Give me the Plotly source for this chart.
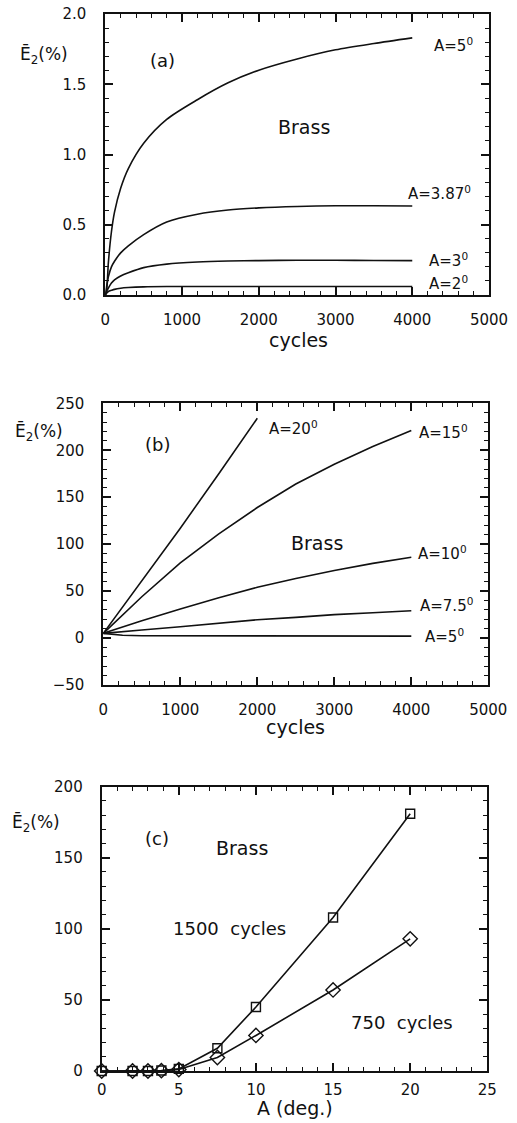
import plotly.graph_objects as go

# ---------------- data ----------------
# Panel (a): strain vs cycles, small amplitudes
cycles_a = [0, 20, 40, 80, 120, 200, 300, 500, 800, 1200, 1600, 2000, 2500, 3000, 3500, 4000]
e_a_5 = [0.0, 0.05, 0.23, 0.45, 0.59, 0.76, 0.90, 1.08, 1.25, 1.39, 1.51, 1.60, 1.68, 1.745, 1.79, 1.83]
e_a_387 = [0.0, 0.07, 0.13, 0.20, 0.24, 0.30, 0.35, 0.43, 0.52, 0.575, 0.605, 0.62, 0.63, 0.635, 0.635, 0.633]
e_a_3 = [0.0, 0.03, 0.05, 0.085, 0.108, 0.135, 0.158, 0.195, 0.22, 0.235, 0.242, 0.245, 0.247, 0.247, 0.246, 0.245]
e_a_2 = [0.0, 0.015, 0.025, 0.033, 0.04, 0.048, 0.053, 0.058, 0.06, 0.06, 0.06, 0.06, 0.06, 0.06, 0.06, 0.06]

# Panel (b): strain vs cycles, larger amplitudes
cycles_b = [0, 250, 500, 1000, 1500, 2000, 2500, 3000, 3500, 4000]
cycles_b20 = [0, 250, 500, 1000, 1500, 2000]
e_b_20 = [5, 33, 61, 117, 175, 234]
e_b_15 = [5, 25, 44, 80, 111, 139, 164, 185, 204, 221]
e_b_10 = [5, 12, 18.5, 31, 43, 54, 63.5, 72, 79.5, 86]
e_b_75 = [5, 7, 8.5, 12, 16, 19.5, 22, 25, 27, 29]
e_b_5 = [5, 3, 2.5, 2.5, 2, 2.2, 2, 2, 2, 2]

# Panel (c): strain vs amplitude
amp_deg = [0, 2, 3, 3.87, 5, 7.5, 10, 15, 20]
e_c_1500 = [0, 0, 0, 0.3, 1.5, 16, 45, 108, 181]
e_c_750 = [0, 0, 0, 0.2, 1, 9.5, 25, 57, 93]

# ---------------- figure ----------------
W, H = 517, 1123
FONT = "DejaVu Sans"
INK = "#111111"

fig = go.Figure()
line = dict(color=INK, width=1.6)

for ys in (e_a_5, e_a_387, e_a_3, e_a_2):
    fig.add_trace(go.Scatter(x=cycles_a, y=ys, mode="lines", line=dict(line, shape="spline", smoothing=0.8),
                             xaxis="x", yaxis="y", showlegend=False))

fig.add_trace(go.Scatter(x=cycles_b20, y=e_b_20, mode="lines", line=line,
                         xaxis="x2", yaxis="y2", showlegend=False))
for ys in (e_b_15, e_b_10, e_b_75, e_b_5):
    fig.add_trace(go.Scatter(x=cycles_b, y=ys, mode="lines", line=line,
                             xaxis="x2", yaxis="y2", showlegend=False))

fig.add_trace(go.Scatter(x=amp_deg, y=e_c_1500, mode="lines+markers", line=line,
                         marker=dict(symbol="square-open", size=9, color=INK, line=dict(width=1.4)),
                         cliponaxis=False, xaxis="x3", yaxis="y3", showlegend=False))
fig.add_trace(go.Scatter(x=amp_deg, y=e_c_750, mode="lines+markers", line=line,
                         marker=dict(symbol="diamond-open", size=11, color=INK, line=dict(width=1.4)),
                         cliponaxis=False, xaxis="x3", yaxis="y3", showlegend=False))


def px_x(p):
    return p / W


def px_y(p):
    return 1 - p / H


tickfont = dict(family=FONT, size=15, color=INK)


def common(rng, dtick, minor, standoff):
    return dict(range=rng, tickmode="linear", dtick=dtick, tick0=0, automargin=False,
                showline=True, linewidth=2, linecolor=INK, mirror="allticks",
                ticks="inside", ticklen=8, tickwidth=1.5, tickcolor=INK,
                minor=dict(dtick=minor, tick0=0, ticks="inside", ticklen=4, tickwidth=1.2,
                           tickcolor=INK, showgrid=False),
                showgrid=False, zeroline=False, tickfont=tickfont,
                ticklabelstandoff=standoff, fixedrange=True)


def xax(domain, anchor, rng, dtick, minor, standoff):
    d = common(rng, dtick, minor, standoff)
    d.update(domain=domain, anchor=anchor)
    return d


def yax(domain, anchor, rng, dtick, minor, fmt=None):
    d = common(rng, dtick, minor, 14)
    d.update(domain=domain, anchor=anchor)
    if fmt:
        d["tickformat"] = fmt
    return d


fig.update_layout(
    template="simple_white",
    width=W, height=H,
    margin=dict(l=0, r=0, t=0, b=0, autoexpand=False),
    paper_bgcolor="white", plot_bgcolor="white",
    font=dict(family=FONT, color=INK),
    xaxis=xax([px_x(105.3), px_x(489)], "y", [0, 5000], 1000, 200, 10),
    yaxis=yax([px_y(295), px_y(14)], "x", [0, 2], 0.5, 0.1, ".1f"),
    xaxis2=xax([px_x(103.3), px_x(488.3)], "y2", [0, 5000], 1000, 200, 10),
    yaxis2=yax([px_y(685), px_y(403.3)], "x2", [-50, 250], 50, 10),
    xaxis3=xax([px_x(101.7), px_x(487.3)], "y3", [0, 25], 5, 1, 4),
    yaxis3=yax([px_y(1071), px_y(786.7)], "x3", [0, 200], 50, 10),
)

ann = []


def txt(text, x, y, xref, yref, size, xanchor="center", yanchor="middle"):
    ann.append(dict(text=text, x=x, y=y, xref=xref, yref=yref, showarrow=False,
                    xanchor=xanchor, yanchor=yanchor,
                    font=dict(family=FONT, size=size, color=INK)))


deg = "<sup>0</sup>"
# panel (a)
txt("(a)", 749, 1.67, "x", "y", 18)
txt("Brass", 2594, 1.196, "x", "y", 19)
txt("A=5" + deg, 4256, 1.78, "x", "y", 15, "left")
txt("A=3.87" + deg, 3918, 0.726, "x", "y", 15, "left")
txt("A=3" + deg, 4191, 0.249, "x", "y", 15, "left")
txt("A=2" + deg, 4191, 0.085, "x", "y", 15, "left")
# panel (b)
txt("(b)", 710, 205.6, "x2", "y2", 18)
txt("Brass", 2775, 101, "x2", "y2", 19)
txt("A=20" + deg, 2126, 224, "x2", "y2", 15, "left")
txt("A=15" + deg, 4070, 219.8, "x2", "y2", 15, "left")
txt("A=10" + deg, 4057, 90.4, "x2", "y2", 15, "left")
txt("A=7.5" + deg, 4091, 35.4, "x2", "y2", 15, "left")
txt("A=5" + deg, 4148, 1.7, "x2", "y2", 15, "left")
# panel (c)
txt("(c)", 3.58, 163.9, "x3", "y3", 18)
txt("Brass", 9.09, 156.9, "x3", "y3", 19)
txt("1500\u00a0\u00a0cycles", 8.31, 100.6, "x3", "y3", 18)
txt("750\u00a0\u00a0cycles", 19.46, 33.8, "x3", "y3", 18)

# axis titles
ylab = "Ē<sub>2</sub>(%)"
txt(ylab, px_x(18), px_y(55), "paper", "paper", 17, "left")
txt(ylab, px_x(13), px_y(432), "paper", "paper", 17, "left")
txt(ylab, px_x(10), px_y(823), "paper", "paper", 17, "left")
txt("cycles", px_x(298), px_y(340), "paper", "paper", 19)
txt("cycles", px_x(295), px_y(727), "paper", "paper", 19)
txt("A (deg.)", px_x(295), px_y(1108), "paper", "paper", 19)

fig.update_layout(annotations=ann)

fig.write_html("out.html", config={"displayModeBar": False},
               post_script="document.body.style.margin='0';")
